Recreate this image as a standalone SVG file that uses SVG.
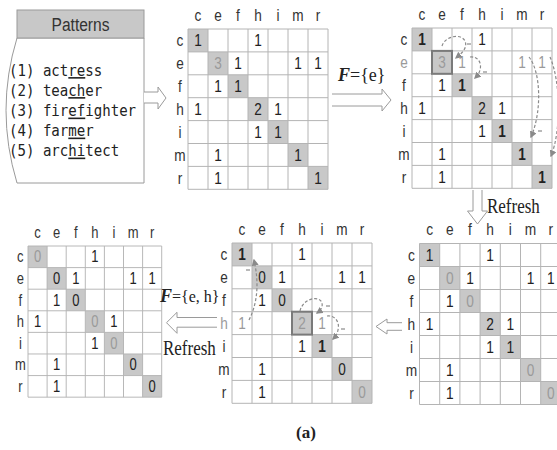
<svg xmlns="http://www.w3.org/2000/svg" xmlns:xlink="http://www.w3.org/1999/xlink" width="557" height="450" viewBox="0 0 557 450">
  <style>
    .gl { fill: none; stroke: #b4b4b4; stroke-width: 1; }
    .dg { fill: #c8c8c8; }
    .n, .lab { font-family: "Liberation Sans", Arial, sans-serif; font-size: 17px; text-anchor: middle; }
    .n { fill: #222; }
    .lab { fill: #333; }
    .g { fill: #9a9a9a; }
    .b { font-weight: bold; }
    .hl { fill: none; stroke: #7a7a7a; stroke-width: 2; }
    .mono { font-family: "DejaVu Sans Mono", "Liberation Mono", monospace; font-size: 16px; fill: #222; }
    .u { text-decoration: underline; }
    .serif { font-family: "Liberation Serif", "Times New Roman", serif; fill: #222; }
    .hollow { fill: #fff; stroke: #9a9a9a; stroke-width: 1; }
    .dash { fill: none; stroke: #8a8a8a; stroke-width: 1.2; stroke-dasharray: 3 2; marker-end: url(#tri); }
    .minus { stroke: #8a8a8a; stroke-width: 1.2; }
  </style>
  <defs>
    <marker id="tri" viewBox="0 0 10 10" refX="8" refY="5" markerWidth="7" markerHeight="7" markerUnits="userSpaceOnUse" orient="auto">
      <path d="M0,0 L10,5 L0,10 Z" fill="#8a8a8a"/>
    </marker>
    <!-- shaded diagonal of a 7x7 matrix -->
    <g id="diag">
      <rect class="dg" x="0" y="0" width="20" height="22.9"/>
      <rect class="dg" x="20" y="22.9" width="20" height="22.9"/>
      <rect class="dg" x="40" y="45.8" width="20" height="22.9"/>
      <rect class="dg" x="60" y="68.7" width="20" height="22.9"/>
      <rect class="dg" x="80" y="91.6" width="20" height="22.9"/>
      <rect class="dg" x="100" y="114.5" width="20" height="22.9"/>
      <rect class="dg" x="120" y="137.4" width="20" height="22.9"/>
    </g>
    <!-- grid lines -->
    <path id="grid" class="gl" d="M0,0H140M0,22.9H140M0,45.8H140M0,68.7H140M0,91.6H140M0,114.5H140M0,137.4H140M0,160.3H140M0,0V160.3M20,0V160.3M40,0V160.3M60,0V160.3M80,0V160.3M100,0V160.3M120,0V160.3M140,0V160.3"/>
    <!-- column headers (text space is squeezed to 0.8 width, so x = centre / 0.8) -->
    <g id="cols" transform="scale(0.8,1)">
      <text class="lab" x="12.5" y="-8">c</text>
      <text class="lab" x="37.5" y="-8">e</text>
      <text class="lab" x="62.5" y="-8">f</text>
      <text class="lab" x="87.5" y="-8">h</text>
      <text class="lab" x="112.5" y="-8">i</text>
      <text class="lab" x="137.5" y="-8">m</text>
      <text class="lab" x="162.5" y="-8">r</text>
    </g>
  </defs>

  <rect width="557" height="450" fill="#fff"/>

  <!-- pattern list -->
  <g id="patterns">
    <path d="M17,38 Q-5,110 17,183 H144 V38 Z" fill="#fff" stroke="#9a9a9a"/>
    <rect x="17" y="10" width="127" height="28" fill="#c8c8c8" stroke="#9a9a9a"/>
    <text class="lab" transform="translate(80.5,30.5) scale(0.82,1)" style="font-size:19px">Patterns</text>
    <g transform="translate(9,0) scale(0.88,1)">
      <text class="mono" x="0" y="76">(1) act<tspan class="u">re</tspan>ss</text>
      <text class="mono" x="0" y="96">(2) tea<tspan class="u">ch</tspan>er</text>
      <text class="mono" x="0" y="116.5">(3) fir<tspan class="u">ef</tspan>ighter</text>
      <text class="mono" x="0" y="136.5">(4) far<tspan class="u">me</tspan>r</text>
      <text class="mono" x="0" y="156.5">(5) arc<tspan class="u">hi</tspan>tect</text>
    </g>
  </g>

  <!-- initial matrix -->
  <g id="m1" transform="translate(188,29)">
    <use xlink:href="#diag"/>
    <use xlink:href="#grid"/>
    <use xlink:href="#cols"/>
    <g transform="scale(0.8,1)">
      <text class="lab" x="-10" y="17.5">c</text>
      <text class="lab" x="-10" y="40.4">e</text>
      <text class="lab" x="-10" y="63.3">f</text>
      <text class="lab" x="-10" y="86.2">h</text>
      <text class="lab" x="-10" y="109.1">i</text>
      <text class="lab" x="-10" y="132">m</text>
      <text class="lab" x="-10" y="154.9">r</text>
      <text class="n" x="12.5" y="17.5">1</text>
      <text class="n" x="87.5" y="17.5">1</text>
      <text class="n g" x="37.5" y="40.4">3</text>
      <text class="n" x="62.5" y="40.4">1</text>
      <text class="n" x="137.5" y="40.4">1</text>
      <text class="n" x="162.5" y="40.4">1</text>
      <text class="n" x="37.5" y="63.3">1</text>
      <text class="n" x="62.5" y="63.3">1</text>
      <text class="n" x="12.5" y="86.2">1</text>
      <text class="n" x="87.5" y="86.2">2</text>
      <text class="n" x="112.5" y="86.2">1</text>
      <text class="n" x="87.5" y="109.1">1</text>
      <text class="n" x="112.5" y="109.1">1</text>
      <text class="n" x="37.5" y="132">1</text>
      <text class="n" x="137.5" y="132">1</text>
      <text class="n" x="37.5" y="154.9">1</text>
      <text class="n" x="162.5" y="154.9">1</text>
    </g>
  </g>

  <!-- matrix while filtering e -->
  <g id="m2" transform="translate(412,28)">
    <use xlink:href="#diag"/>
    <use xlink:href="#grid"/>
    <rect class="hl" x="20" y="22.9" width="20" height="22.9"/>
    <use xlink:href="#cols"/>
    <g transform="scale(0.8,1)">
      <text class="lab" x="-10" y="17.5">c</text>
      <text class="lab g" x="-10" y="40.4">e</text>
      <text class="lab" x="-10" y="63.3">f</text>
      <text class="lab" x="-10" y="86.2">h</text>
      <text class="lab" x="-10" y="109.1">i</text>
      <text class="lab" x="-10" y="132">m</text>
      <text class="lab" x="-10" y="154.9">r</text>
      <text class="n b" x="12.5" y="17.5">1</text>
      <text class="n" x="87.5" y="17.5">1</text>
      <text class="n g" x="37.5" y="40.4">3</text>
      <text class="n g" x="62.5" y="40.4">1</text>
      <text class="n g" x="137.5" y="40.4">1</text>
      <text class="n g" x="162.5" y="40.4">1</text>
      <text class="n" x="37.5" y="63.3">1</text>
      <text class="n b" x="62.5" y="63.3">1</text>
      <text class="n" x="12.5" y="86.2">1</text>
      <text class="n" x="87.5" y="86.2">2</text>
      <text class="n" x="112.5" y="86.2">1</text>
      <text class="n" x="87.5" y="109.1">1</text>
      <text class="n b" x="112.5" y="109.1">1</text>
      <text class="n" x="37.5" y="132">1</text>
      <text class="n b" x="137.5" y="132">1</text>
      <text class="n" x="37.5" y="154.9">1</text>
      <text class="n b" x="162.5" y="154.9">1</text>
    </g>
  </g>

  <!-- refreshed matrix -->
  <g id="m3" transform="translate(419.5,243.5) scale(1.01,1.005)">
    <use xlink:href="#diag"/>
    <use xlink:href="#grid"/>
    <use xlink:href="#cols"/>
    <g transform="scale(0.8,1)">
      <text class="lab" x="-10" y="17.5">c</text>
      <text class="lab" x="-10" y="40.4">e</text>
      <text class="lab" x="-10" y="63.3">f</text>
      <text class="lab" x="-10" y="86.2">h</text>
      <text class="lab" x="-10" y="109.1">i</text>
      <text class="lab" x="-10" y="132">m</text>
      <text class="lab" x="-10" y="154.9">r</text>
      <text class="n" x="12.5" y="17.5">1</text>
      <text class="n" x="87.5" y="17.5">1</text>
      <text class="n g" x="37.5" y="40.4">0</text>
      <text class="n" x="62.5" y="40.4">1</text>
      <text class="n" x="137.5" y="40.4">1</text>
      <text class="n" x="162.5" y="40.4">1</text>
      <text class="n" x="37.5" y="63.3">1</text>
      <text class="n g" x="62.5" y="63.3">0</text>
      <text class="n" x="12.5" y="86.2">1</text>
      <text class="n" x="87.5" y="86.2">2</text>
      <text class="n" x="112.5" y="86.2">1</text>
      <text class="n" x="87.5" y="109.1">1</text>
      <text class="n" x="112.5" y="109.1">1</text>
      <text class="n" x="37.5" y="132">1</text>
      <text class="n g" x="137.5" y="132">0</text>
      <text class="n" x="37.5" y="154.9">1</text>
      <text class="n g" x="162.5" y="154.9">0</text>
    </g>
  </g>

  <!-- matrix while filtering e, h -->
  <g id="m4" transform="translate(232,243)">
    <use xlink:href="#diag"/>
    <use xlink:href="#grid"/>
    <rect class="hl" x="60" y="68.7" width="20" height="22.9"/>
    <use xlink:href="#cols"/>
    <g transform="scale(0.8,1)">
      <text class="lab" x="-10" y="17.5">c</text>
      <text class="lab" x="-10" y="40.4">e</text>
      <text class="lab" x="-10" y="63.3">f</text>
      <text class="lab g" x="-10" y="86.2">h</text>
      <text class="lab" x="-10" y="109.1">i</text>
      <text class="lab" x="-10" y="132">m</text>
      <text class="lab" x="-10" y="154.9">r</text>
      <text class="n b" x="12.5" y="17.5">1</text>
      <text class="n" x="87.5" y="17.5">1</text>
      <text class="n" x="37.5" y="40.4">0</text>
      <text class="n" x="62.5" y="40.4">1</text>
      <text class="n" x="137.5" y="40.4">1</text>
      <text class="n" x="162.5" y="40.4">1</text>
      <text class="n" x="37.5" y="63.3">1</text>
      <text class="n" x="62.5" y="63.3">0</text>
      <text class="n g" x="12.5" y="86.2">1</text>
      <text class="n g" x="87.5" y="86.2">2</text>
      <text class="n g" x="112.5" y="86.2">1</text>
      <text class="n" x="87.5" y="109.1">1</text>
      <text class="n b" x="112.5" y="109.1">1</text>
      <text class="n" x="37.5" y="132">1</text>
      <text class="n" x="137.5" y="132">0</text>
      <text class="n" x="37.5" y="154.9">1</text>
      <text class="n g" x="162.5" y="154.9">0</text>
    </g>
  </g>

  <!-- final matrix -->
  <g id="m5" transform="translate(28,246) scale(0.955,0.943)">
    <use xlink:href="#diag"/>
    <use xlink:href="#grid"/>
    <use xlink:href="#cols"/>
    <g transform="scale(0.8,1)">
      <text class="lab" x="-10" y="17.5">c</text>
      <text class="lab" x="-10" y="40.4">e</text>
      <text class="lab" x="-10" y="63.3">f</text>
      <text class="lab" x="-10" y="86.2">h</text>
      <text class="lab" x="-10" y="109.1">i</text>
      <text class="lab" x="-10" y="132">m</text>
      <text class="lab" x="-10" y="154.9">r</text>
      <text class="n g" x="12.5" y="17.5">0</text>
      <text class="n" x="87.5" y="17.5">1</text>
      <text class="n" x="37.5" y="40.4">0</text>
      <text class="n" x="62.5" y="40.4">1</text>
      <text class="n" x="137.5" y="40.4">1</text>
      <text class="n" x="162.5" y="40.4">1</text>
      <text class="n" x="37.5" y="63.3">1</text>
      <text class="n" x="62.5" y="63.3">0</text>
      <text class="n" x="12.5" y="86.2">1</text>
      <text class="n g" x="87.5" y="86.2">0</text>
      <text class="n" x="112.5" y="86.2">1</text>
      <text class="n" x="87.5" y="109.1">1</text>
      <text class="n g" x="112.5" y="109.1">0</text>
      <text class="n" x="37.5" y="132">1</text>
      <text class="n" x="137.5" y="132">0</text>
      <text class="n" x="37.5" y="154.9">1</text>
      <text class="n" x="162.5" y="154.9">0</text>
    </g>
  </g>

  <!-- connectors -->
  <g id="connectors">
    <path class="hollow" d="M144,92 H158 V87 L166,98 L158,109 V103 H144"/>
    <path class="hollow" d="M332,94 H382 V89 L391,100 L382,111 V106 H332"/>
    <path class="hollow" d="M473,190 V211 H467.5 L477.5,224 L487.5,211 H482 V190"/>
    <path class="hollow" d="M402,322.7 H387 V319 L376,326.5 L387,334 V330.3 H402"/>
    <path class="hollow" d="M217,317.5 H177 V312.3 L166.5,322.7 L177,333.3 V327.2 H217"/>

    <!-- decrement arcs while filtering e -->
    <path class="dash" d="M442,46 C445,36 461,33 465,41 C468,48 461,54 456,58"/>
    <path class="dash" d="M470,57 C478,56 482,63 480,70 C479,74 477,76 475,78"/>
    <path class="dash" d="M529,57 C541,72 542,112 531,137"/>
    <path class="dash" d="M550,57 C561,82 561,132 551,156"/>
    <line class="minus" x1="467" y1="44" x2="471" y2="44"/>
    <line class="minus" x1="483" y1="72" x2="487" y2="72"/>
    <line class="minus" x1="538" y1="131" x2="542" y2="131"/>

    <!-- decrement arcs while filtering h -->
    <path class="dash" d="M249,320 C258,302 259,282 254,260"/>
    <path class="dash" d="M300,311 C303,298 320,295 322,303 C323,308 320,311 317,313"/>
    <path class="dash" d="M327,316 C335,315 340,322 338,330 C337,335 335,337 333,339"/>
    <line class="minus" x1="246" y1="270" x2="250" y2="270"/>
    <line class="minus" x1="326" y1="306" x2="330" y2="306"/>
    <line class="minus" x1="341" y1="329" x2="345" y2="329"/>
  </g>

  <!-- labels -->
  <text class="serif" x="338" y="81" style="font-size:18px"><tspan font-weight="bold" font-style="italic">F</tspan>={e}</text>
  <text class="serif" transform="translate(487,213) scale(0.85,1)" style="font-size:20px">Refresh</text>
  <text class="serif" x="160" y="302" style="font-size:16px"><tspan font-weight="bold" font-style="italic" style="font-size:18px">F</tspan>={e, h}</text>
  <text class="serif" transform="translate(163,355) scale(0.85,1)" style="font-size:20px">Refresh</text>
  <text class="serif" x="306" y="438" text-anchor="middle" font-weight="bold" style="font-size:17px">(a)</text>
</svg>
